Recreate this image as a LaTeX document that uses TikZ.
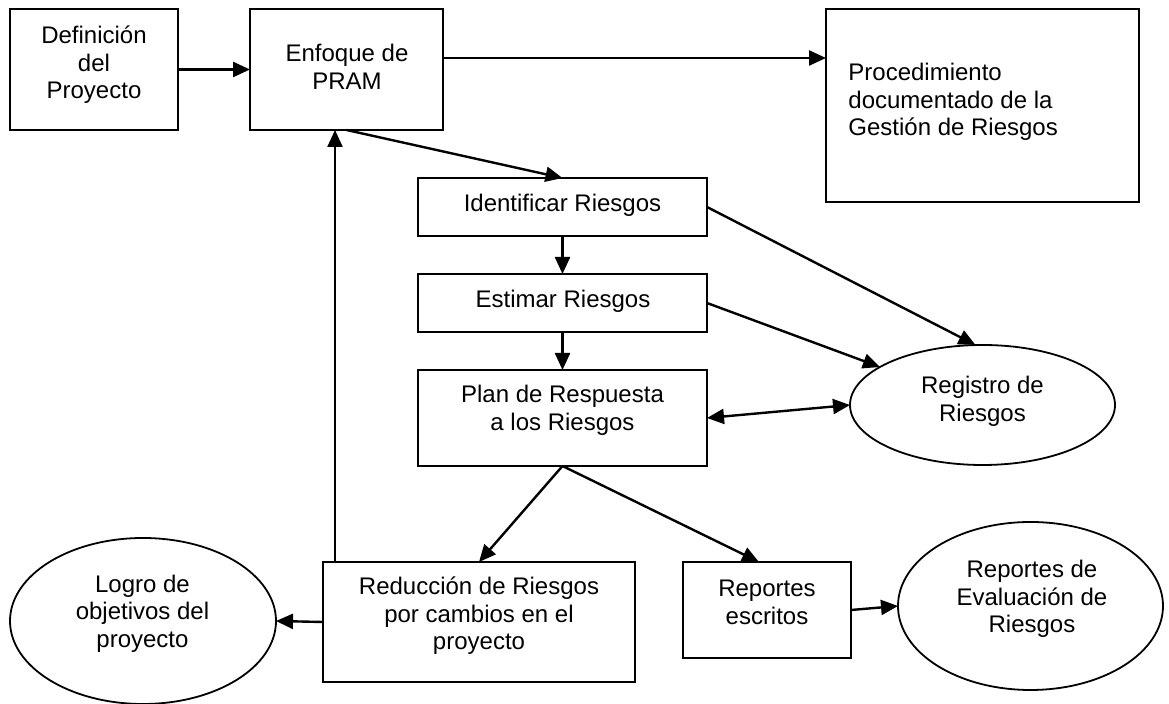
\documentclass[tikz,border=0pt]{standalone}
\usepackage{fontspec}
\setmainfont{Liberation Sans}
\usetikzlibrary{arrows.meta,shapes.geometric}
\begin{document}
\begin{tikzpicture}[x=0.5pt,y=-0.5pt,
  box/.style={draw, line width=1pt, inner sep=0pt, outer sep=0pt, rectangle},
  oval/.style={draw, line width=0.9pt, inner sep=0pt, outer sep=0pt, ellipse},
  txt/.style={inner sep=0pt, align=center, font=\fontsize{12}{13.8}\selectfont},
  arr/.style={-{Triangle[length=8.5pt,width=7.5pt]}, line width=1.2pt},
  darr/.style={{Triangle[length=8.5pt,width=7.5pt]}-{Triangle[length=8.5pt,width=7.5pt]}, line width=1.2pt}]
\useasboundingbox (0,0) rectangle (1169,704);

% boxes
\node[box, minimum width=84pt, minimum height=60.5pt] (def) at (94,69.5) {};
\node[box, minimum width=96.5pt, minimum height=60.5pt] (enf) at (346.5,69.5) {};
\node[box, minimum width=156.5pt, minimum height=96.5pt] (proc) at (982.5,105.5) {};
\node[box, minimum width=144.5pt, minimum height=29pt] (ident) at (562.5,207) {};
\node[box, minimum width=144.5pt, minimum height=29pt] (estim) at (562.5,303) {};
\node[box, minimum width=144.5pt, minimum height=48pt] (plan) at (562.5,418) {};
\node[box, minimum width=156pt, minimum height=60pt] (red) at (479,622) {};
\node[box, minimum width=84pt, minimum height=48pt] (rep) at (767,610) {};
\node[oval, minimum width=132.5pt, minimum height=60pt] (reg) at (982.5,405) {};
\node[oval, minimum width=132.5pt, minimum height=84pt] (eval) at (1030.5,606) {};
\node[oval, minimum width=133pt, minimum height=83pt] (logro) at (143,621) {};

% texts
\node[txt] (defT) at (94,65) {Definición\\del\\Proyecto};
\node[txt] (enfT) at (347,67) {Enfoque de\\PRAM};
\node[txt, align=left, anchor=west] (procT) at (848,102) {Procedimiento\\documentado de la\\Gestión de Riesgos};
\node[txt] (identT) at (562.5,205) {Identificar Riesgos};
\node[txt] (estimT) at (563,301) {Estimar Riesgos};
\node[txt] (planT) at (562.5,410.5) {Plan de Respuesta\\a los Riesgos};
\node[txt] (regT) at (982.5,401.5) {Registro de\\Riesgos};
\node[txt] (redT) at (479,616) {Reducción de Riesgos\\por cambios en el\\proyecto};
\node[txt] (repT) at (767,602.5) {Reportes\\escritos};
\node[txt] (evalT) at (1032,599) {Reportes de\\Evaluación de\\Riesgos};
\node[txt] (logroT) at (142.5,613.5) {Logro de\\objetivos del\\proyecto};

% connectors
\coordinate (e1) at ([yshift=5.75pt]enf.east);
\coordinate (r1) at ([xshift=6pt]red.north west);
\draw[arr] (def.east) -- (enf.west);
\draw[arr] (e1) -- (e1 -| proc.west);
\draw[arr] (enf.south) -- (ident.north);
\draw[arr] (ident.south) -- (estim.north);
\draw[arr] (estim.south) -- (plan.north);
\draw[arr] (ident.east) -- ([xshift=-3.5pt]reg.north);
\draw[arr] (estim.east) -- (reg);
\draw[darr] (plan.east) -- (reg.west);
\draw[arr] (plan.south) -- (red.north);
\draw[arr] (plan.south) -- ([xshift=-4pt]rep.north);
\draw[arr] (rep.east) -- (eval.west);
\draw[arr] (red.west) -- (logro.east);
\draw[arr] (r1) -- (r1 |- enf.south);
\end{tikzpicture}
\end{document}
